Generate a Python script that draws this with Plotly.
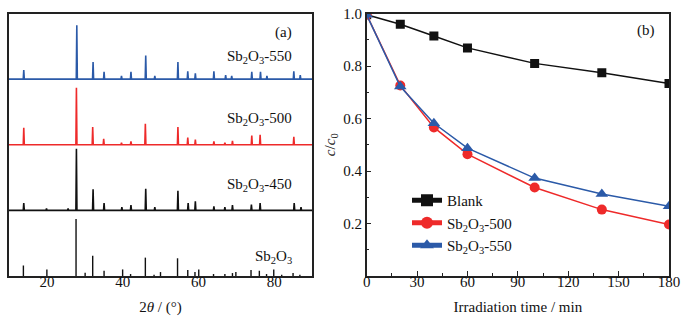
import plotly.graph_objects as go

# ---------------- Panel (a): XRD data (2theta in deg, intensity in band units) ----------------
ref_pos = [13.8, 20.0, 27.7, 30.1, 32.1, 35.1, 40.0, 42.1, 46.0, 48.3, 50.0, 54.5, 57.2, 59.1,
           60.1, 64.0, 67.0, 69.0, 69.9, 73.9, 76.1, 78.0, 79.9, 82.0, 85.0, 86.8]
ref_int = [0.16, 0.10, 0.87, 0.05, 0.31, 0.08, 0.10, 0.03, 0.28, 0.02, 0.06, 0.27, 0.09, 0.06,
           0.10, 0.03, 0.03, 0.045, 0.06, 0.09, 0.08, 0.03, 0.10, 0.02, 0.045, 0.02]

s450_pos = [13.9, 19.9, 25.6, 27.8, 32.2, 35.1, 39.8, 42.2, 46.1, 48.5, 54.6, 57.3, 59.2,
            64.1, 67.0, 69.0, 74.0, 76.3, 85.3, 87.1]
s450_int = [0.11, 0.03, 0.03, 0.94, 0.32, 0.11, 0.05, 0.08, 0.33, 0.05, 0.30, 0.11, 0.14,
            0.06, 0.05, 0.08, 0.09, 0.11, 0.11, 0.05]

s500_pos = [13.9, 27.8, 32.1, 35.0, 39.7, 42.2, 46.0, 54.6, 57.2, 59.2, 64.1, 67.0, 69.0,
            74.1, 76.3, 85.2]
s500_int = [0.26, 0.87, 0.27, 0.09, 0.03, 0.05, 0.32, 0.27, 0.11, 0.08, 0.05, 0.03, 0.06,
            0.14, 0.15, 0.12]

s550_pos = [13.9, 27.9, 32.2, 35.1, 39.7, 42.2, 46.1, 48.5, 54.6, 57.2, 59.2, 64.1, 67.2,
            68.8, 74.1, 76.4, 78.1, 85.2, 86.9]
s550_int = [0.14, 0.82, 0.26, 0.11, 0.05, 0.11, 0.36, 0.05, 0.26, 0.12, 0.09, 0.12, 0.06,
            0.05, 0.11, 0.11, 0.05, 0.12, 0.06]

xrd_offsets = [1.0, 2.0, 3.0]   # baselines of the stacked patterns
xrd_labels = ["Sb<sub>2</sub>O<sub>3</sub>", "Sb<sub>2</sub>O<sub>3</sub>-450",
              "Sb<sub>2</sub>O<sub>3</sub>-500", "Sb<sub>2</sub>O<sub>3</sub>-550"]

# ---------------- Panel (b): photocatalytic degradation ----------------
time_min = [0, 20, 40, 60, 100, 140, 180]
blank = [0.995, 0.959, 0.914, 0.869, 0.810, 0.774, 0.733]
sb500 = [0.995, 0.726, 0.566, 0.464, 0.337, 0.253, 0.196]
sb550 = [0.995, 0.722, 0.582, 0.487, 0.373, 0.312, 0.266]

FONT = "Liberation Serif"
FS = 15
BLACK = "#111111"
RED = "#ee2a2a"
BLUE = "#2b5aa8"


def peak_line(pos, inten, base, x0=10, x1=90, hw=0.14):
    xs, ys = [x0], [base]
    for p, h in zip(pos, inten):
        xs += [p - hw, p, p + hw]
        ys += [base, base + h, base]
    xs.append(x1)
    ys.append(base)
    return xs, ys


def sticks(pos, inten):
    xs, ys = [], []
    for p, h in zip(pos, inten):
        xs += [p, p, None]
        ys += [0, h, None]
    return xs, ys


fig = go.Figure()

sx, sy = sticks(ref_pos, ref_int)
fig.add_trace(go.Scatter(x=sx, y=sy, mode="lines", line=dict(color=BLACK, width=1.4),
                         showlegend=False, xaxis="x", yaxis="y", hoverinfo="skip"))
for (pos, inten, col, off) in [(s450_pos, s450_int, BLACK, xrd_offsets[0]),
                               (s500_pos, s500_int, RED, xrd_offsets[1]),
                               (s550_pos, s550_int, BLUE, xrd_offsets[2])]:
    lx, ly = peak_line(pos, inten, off)
    fig.add_trace(go.Scatter(x=lx, y=ly, mode="lines", line=dict(color=col, width=1.6),
                             showlegend=False, xaxis="x", yaxis="y", hoverinfo="skip"))

fig.add_trace(go.Scatter(x=time_min, y=blank, name="Blank", mode="lines+markers",
                         line=dict(color=BLACK, width=1.5),
                         marker=dict(symbol="square", size=9, color=BLACK),
                         xaxis="x2", yaxis="y2"))
fig.add_trace(go.Scatter(x=time_min, y=sb500, name="Sb<sub>2</sub>O<sub>3</sub>-500",
                         mode="lines+markers", line=dict(color=RED, width=1.5),
                         marker=dict(symbol="circle", size=10, color=RED),
                         xaxis="x2", yaxis="y2"))
fig.add_trace(go.Scatter(x=time_min, y=sb550, name="Sb<sub>2</sub>O<sub>3</sub>-550",
                         mode="lines+markers", line=dict(color=BLUE, width=1.5),
                         marker=dict(symbol="triangle-up", size=11, color=BLUE),
                         xaxis="x2", yaxis="y2"))

W, H = 685, 323
y_dom = [1 - 276 / H, 1 - 13.5 / H]
axis_line = dict(showline=True, linecolor="#222222", linewidth=1.5, mirror=True,
                 showgrid=False, zeroline=False, automargin=False)
tickfont = dict(family=FONT, size=FS, color=BLACK)

fig.update_layout(
    template="none",
    width=W, height=H,
    margin=dict(l=0, r=0, t=0, b=0, pad=0),
    paper_bgcolor="white", plot_bgcolor="white",
    font=dict(family=FONT, size=FS, color=BLACK),
    xaxis=dict(domain=[9 / W, 312 / W], range=[10, 90], tickvals=[20, 40, 60, 80],
               ticks="", tickfont=tickfont, anchor="y", ticklabelstandoff=-9,
               title=dict(text="2<i>θ</i> / (°)", font=dict(family=FONT, size=FS), standoff=13),
               **axis_line),
    yaxis=dict(domain=y_dom, range=[0, 4], showticklabels=False, ticks="", anchor="x",
               **axis_line),
    xaxis2=dict(domain=[366.7 / W, 669 / W], range=[0, 180], tickvals=[0, 30, 60, 90, 120, 150, 180],
                ticks="inside", ticklen=5, tickwidth=1.3, tickcolor="#222222",
                minor=dict(ticks="inside", ticklen=3, tickwidth=1.2, dtick=15, tick0=0,
                           tickcolor="#222222"),
                tickfont=tickfont, anchor="y2", ticklabelstandoff=-9,
                title=dict(text="Irradiation time / min", font=dict(family=FONT, size=FS), standoff=13),
                **axis_line),
    yaxis2=dict(domain=y_dom, range=[0, 1.0], tickvals=[0.2, 0.4, 0.6, 0.8, 1.0],
                ticktext=["0.2", "0.4", "0.6", "0.8", "1.0"],
                ticks="inside", ticklen=5, tickwidth=1.3, tickcolor="#222222",
                minor=dict(ticks="inside", ticklen=3, tickwidth=1.2, dtick=0.1, tick0=0,
                           tickcolor="#222222"),
                tickfont=tickfont, anchor="x2",
                title=dict(text="<i>c</i>/<i>c</i><sub>0</sub>", font=dict(family=FONT, size=FS),
                           standoff=4),
                **axis_line),
    legend=dict(x=407 / W, y=1 - 184 / H, xanchor="left", yanchor="top",
                bgcolor="rgba(0,0,0,0)", font=dict(family=FONT, size=FS, color=BLACK),
                tracegroupgap=0, itemsizing="constant"),
)

label_y = [0.29, 1.38, 2.40, 3.33]
for txt, yy in zip(xrd_labels, label_y):
    fig.add_annotation(x=85.3, y=yy, xref="x", yref="y", text=txt, showarrow=False,
                       xanchor="right", yanchor="middle", font=dict(family=FONT, size=FS, color=BLACK))
fig.add_annotation(x=85.3, y=3.71, xref="x", yref="y", text="(a)", showarrow=False,
                   xanchor="right", yanchor="middle", font=dict(family=FONT, size=FS, color=BLACK))
fig.add_annotation(x=166.3, y=0.935, xref="x2", yref="y2", text="(b)", showarrow=False,
                   xanchor="center", yanchor="middle", font=dict(family=FONT, size=FS, color=BLACK))

fig.write_html("out.html", post_script="document.body.style.margin='0';",
               config={"displayModeBar": False})
